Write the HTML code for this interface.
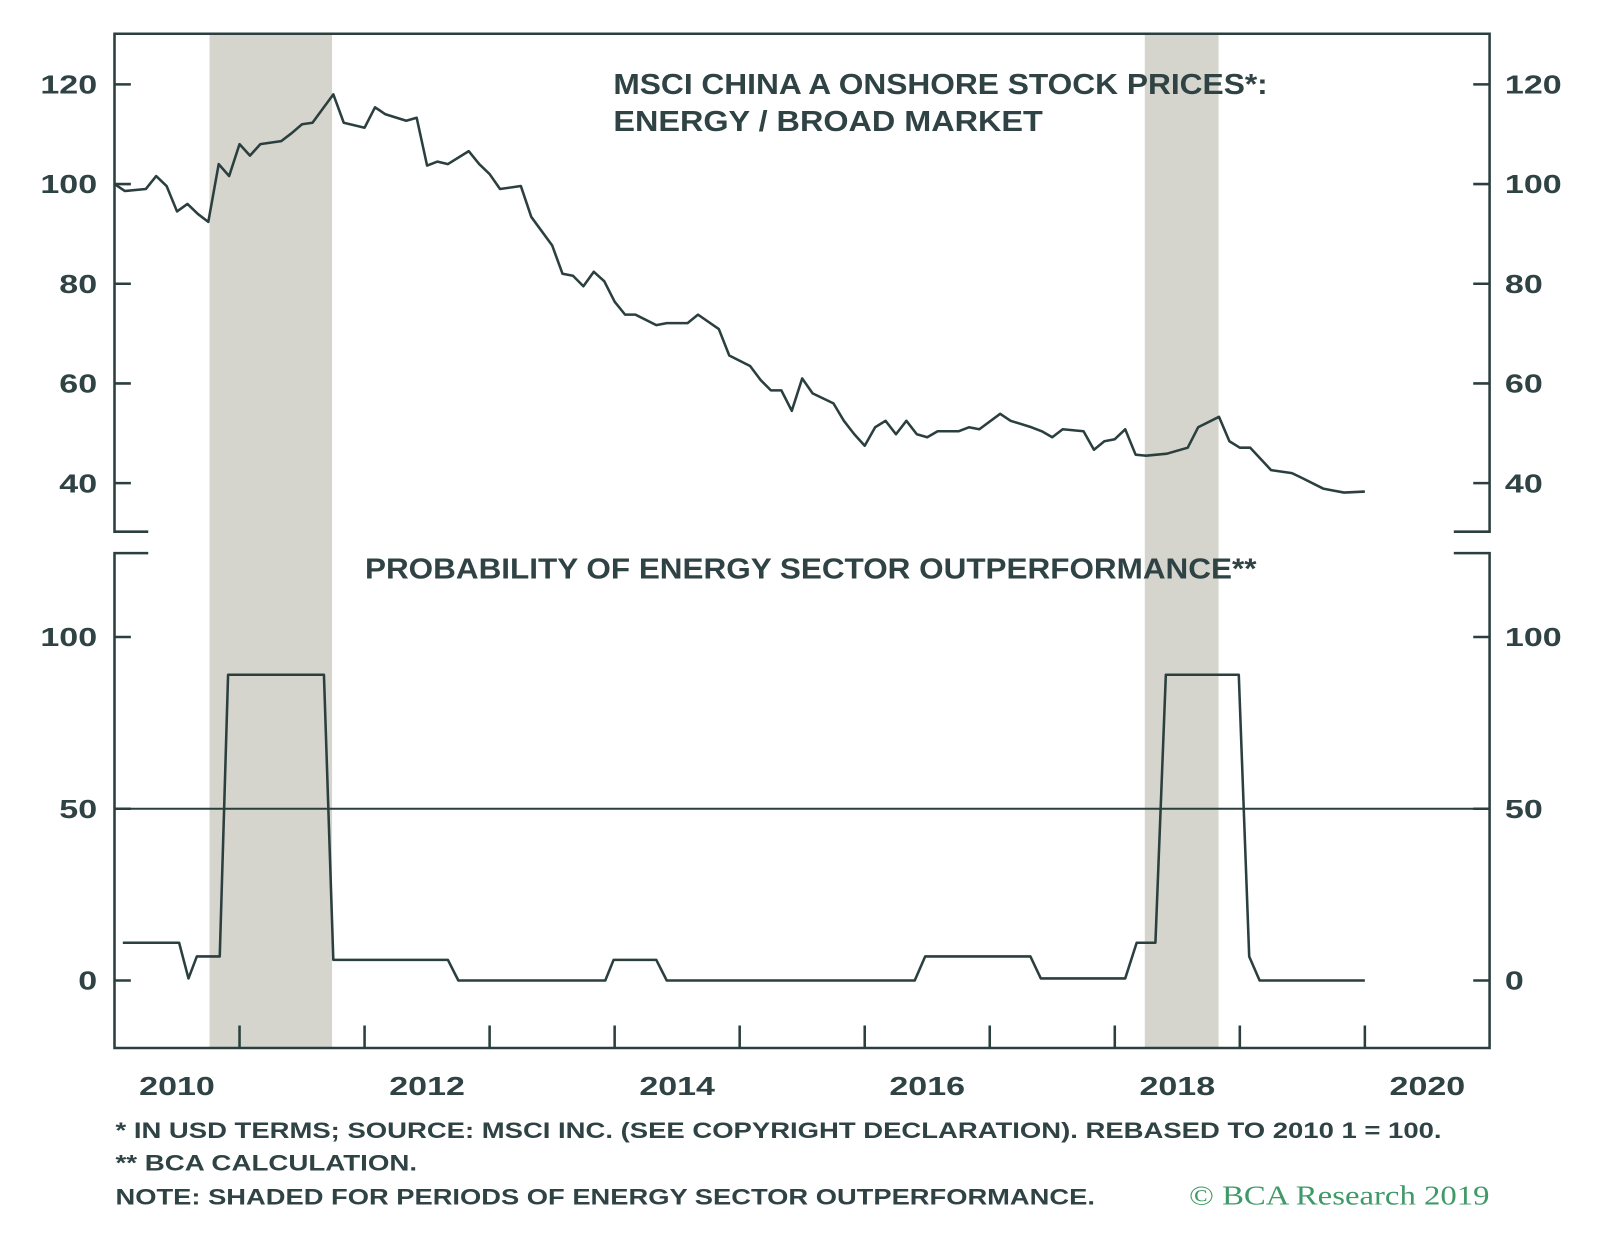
<!DOCTYPE html>
<html><head><meta charset="utf-8"><style>
body{margin:0;background:#fff}
svg text{font-family:"Liberation Sans",sans-serif;font-weight:bold;fill:#2f4244}
</style></head><body>
<svg id="c" width="1600" height="1231" viewBox="0 0 1565 1204" preserveAspectRatio="none" xmlns="http://www.w3.org/2000/svg"></svg>
<script>
const topMonths=[0,1,3,4,5,6,7,8,9,10,11,12,13,14,16,17,18,19,21,22,24,25,26,28,29,30,31,32,34,35,36,37,39,40,42,43,44,45,46,47,48,49,50,52,53,55,56,58,59,61,62,63,64,65,66,67,69,70,71,72,73,74,75,76,77,78,79,81,82,83,85,86,88,89,90,91,93,94,95,96,97,98,99,101,103,104,106,107,108,109,111,113,114,116,117,118,120];
const topValues=[100,98.6,99,101.6,99.6,94.5,96,94,92.4,104,101.6,108,105.7,108,108.6,110.2,112,112.3,118,112.3,111.3,115.4,114,112.7,113.3,103.7,104.5,104,106.6,104,102,99,99.6,93.4,87.7,82,81.6,79.5,82.4,80.5,76.4,73.8,73.8,71.7,72.1,72.1,73.8,70.9,65.6,63.5,60.7,58.6,58.6,54.5,61,58,56,52.5,49.8,47.5,51.2,52.5,49.8,52.5,49.8,49.2,50.4,50.4,51.2,50.8,53.9,52.5,51.2,50.4,49.2,50.8,50.4,46.7,48.4,48.8,50.8,45.7,45.5,45.9,47.1,51.2,53.3,48.4,47.1,47.1,42.6,42,41,38.9,38.5,38.1,38.3];
const probMonths=[0.8,6.2,7.1,7.9,10.1,10.9,20.1,21,32,33,47.1,47.9,52,53,76.8,77.8,87.9,88.9,97,98.1,99.9,100.9,107.9,108.9,109.9,120];
const probValues=[11,11,0.6,7,7,89,89,6,6,0,0,6,6,0,0,7,7,0.6,0.6,11,11,89,89,7,0,0];
const shadeStarts=[2010.76,2018.24];
const shadeEnds=[2011.74,2018.83];
const topTicks=[120,100,80,60,40];
const botTicks=[100,50,0];
const yearLabels=[2010,2012,2014,2016,2018,2020];
const X0=112,X1=1457,PY=122.3;
const xY=y=>X0+(y-2010)*PY;
const xM=m=>X0+m*PY/12;
const yT=v=>180-(v-100)*4.875;
const yB=v=>959-v*3.36;
const S=document.getElementById('c');const NS='http://www.w3.org/2000/svg';
function el(t,a,txt){const e=document.createElementNS(NS,t);for(const k in a)e.setAttribute(k,a[k]);if(txt!==undefined)e.textContent=txt;S.appendChild(e);return e;}
const C='#2b3f3f';
const W=s=>String(s).length*18.5;
for(let i=0;i<shadeStarts.length;i++){
 const r=el('rect',{x:xY(shadeStarts[i]),y:33,width:xY(shadeEnds[i])-xY(shadeStarts[i]),height:992,fill:'#d5d5cd'});
 
 
}
const fr='stroke:'+C+';stroke-width:2.5;fill:none';
let f=el('path',{d:`M145 520H${X0}V33H${X1}V520H1422`,style:fr});

f=el('path',{d:`M145 541H${X0}V1025H${X1}V541H1422`,style:fr});

function ticks(arr,fn){arr.forEach(v=>{const y=fn(v);
 el('line',{x1:X0,x2:X0+16,y1:y,y2:y,style:fr});el('line',{x1:X1-16,x2:X1,y1:y,y2:y,style:fr});
 let t=el('text',{x:95,y:y+9,'font-size':25,'text-anchor':'end',textLength:W(v),lengthAdjust:'spacingAndGlyphs'},v);
 
 t=el('text',{x:1472,y:y+9,'font-size':25,textLength:W(v),lengthAdjust:'spacingAndGlyphs'},v);
 
});}
ticks(topTicks,yT);ticks(botTicks,yB);
let ref=el('line',{x1:X0,x2:X1,y1:yB(50),y2:yB(50),style:'stroke:'+C+';stroke-width:2'});

for(let y=2011;y<=2020;y++){el('line',{x1:xY(y),x2:xY(y),y1:1003,y2:1025,style:fr});}
yearLabels.forEach(y=>{const t=el('text',{x:xY(y+0.5),y:1071,'font-size':25,'text-anchor':'middle',textLength:74,lengthAdjust:'spacingAndGlyphs'},y);
 });
let p=el('polyline',{points:topMonths.map((m,i)=>xM(m)+','+yT(topValues[i])).join(' '),style:'fill:none;stroke:'+C+';stroke-width:2.5;stroke-linejoin:round'});

p=el('polyline',{points:probMonths.map((m,i)=>xM(m)+','+yB(probValues[i])).join(' '),style:'fill:none;stroke:'+C+';stroke-width:2.5;stroke-linejoin:round'});

let t=el('text',{x:600,y:92,'font-size':28,textLength:640,lengthAdjust:'spacingAndGlyphs'},'MSCI CHINA A ONSHORE STOCK PRICES*:');

t=el('text',{x:600,y:128,'font-size':28,textLength:420,lengthAdjust:'spacingAndGlyphs'},'ENERGY / BROAD MARKET');

t=el('text',{x:357,y:566,'font-size':28,textLength:872,lengthAdjust:'spacingAndGlyphs'},'PROBABILITY OF ENERGY SECTOR OUTPERFORMANCE**');

t=el('text',{x:113,y:1113,'font-size':22,textLength:1297,lengthAdjust:'spacingAndGlyphs'},'*  IN USD TERMS; SOURCE: MSCI INC. (SEE COPYRIGHT DECLARATION). REBASED TO 2010 1 = 100.');

t=el('text',{x:113,y:1145,'font-size':22,textLength:295,lengthAdjust:'spacingAndGlyphs'},'** BCA CALCULATION.');

t=el('text',{x:113,y:1178,'font-size':22,textLength:958,lengthAdjust:'spacingAndGlyphs'},'NOTE: SHADED FOR PERIODS OF ENERGY SECTOR OUTPERFORMANCE.');

t=el('text',{x:1163,y:1178,'font-size':27,textLength:294,lengthAdjust:'spacingAndGlyphs','style':'font-family:"Liberation Serif",serif;font-weight:normal;fill:#3f9a68'},'© BCA Research 2019');

</script>
</body></html>
